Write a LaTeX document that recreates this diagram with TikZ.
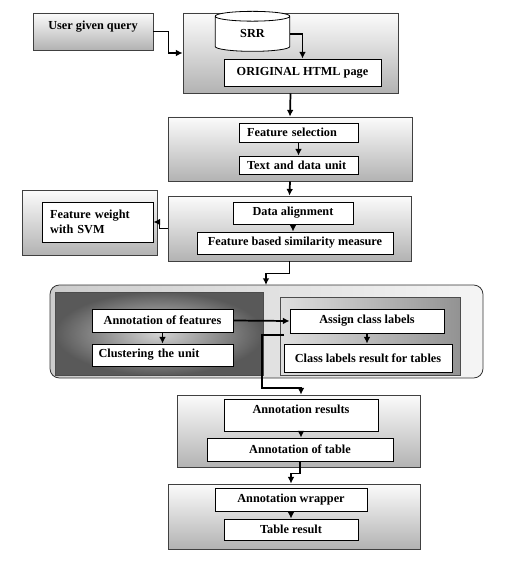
\documentclass[tikz,border=0pt]{standalone}
\usepackage{fontspec}
\setmainfont{Liberation Serif}
\usetikzlibrary{arrows.meta,shapes.geometric}

\tikzset{
  wh/.style 2 args={minimum width=0.75pt*#1, minimum height=0.75pt*#2},
  frame/.style={draw=black!75, line width=0.6pt, inner sep=0pt,
    top color=gray!3, middle color=gray!20, bottom color=gray!60,
    font=\bfseries\fontsize{9.2}{11}\selectfont},
  unit/.style={draw=black, line width=0.6pt, fill=white, inner sep=0pt,
    font=\bfseries\fontsize{9.2}{11}\selectfont},
  db/.style={cylinder, shape border rotate=90, draw=black, line width=0.6pt,
    fill=white, aspect=0.4, minimum height=30pt, minimum width=56pt, inner sep=0pt,
    font=\bfseries\fontsize{9.2}{11}\selectfont},
  flow/.style={line width=1.3pt, -{Latex[length=5pt,width=5pt]}},
}

\begin{document}
\begin{tikzpicture}[x=0.75pt,y=0.75pt,yscale=-1,xscale=1]
  \useasboundingbox (0,0) rectangle (519,563);

  % query and source page
  \node[frame, wh={120}{37}, text depth=9pt] (query) at (93,31.5) {User given query};
  \node[frame, wh={215}{80}] (top) at (290.5,53) {};
  \node[db] (srr) at (252.5,34) {SRR};
  \node[unit, wh={157}{27}] (html) at (302.5,72.5) {ORIGINAL HTML page};

  % feature selection
  \node[frame, wh={244}{64}] (stage2) at (290,149) {};
  \node[unit, wh={119}{19}, text width=77pt, align=left] (fsel) at (298.5,132.5) {Feature selection};
  \node[unit, wh={119}{18}, text width=77pt, align=left] (tdu) at (298.5,165) {Text and data unit};

  % alignment
  \node[frame, wh={243}{65}] (stage3) at (289.5,228.5) {};
  \node[unit, wh={120}{22}] (align) at (293,213) {Data alignment};
  \node[unit, wh={196}{22}] (sim) at (295,243) {Feature based similarity measure};
  \node[frame, wh={135}{65}] (svmframe) at (89.5,222.5) {};
  \node[unit, wh={111}{40}, text width=71pt, align=left] (svm) at (97.5,222) {Feature weight\\with SVM};

  % annotation group
  \node[draw=black!80, line width=0.6pt, rounded corners=7pt, inner sep=0pt,
    left color=gray!40, right color=gray!8, wh={433}{93}] (grp) at (266.5,331.5) {};
  \node[draw=black!70, line width=0.6pt, inner sep=0pt, inner color=gray!35,
    outer color=black!65, wh={208}{83}] (lpanel) at (159,333.5) {};
  \node[draw=black!70, line width=0.6pt, inner sep=0pt, left color=gray!25,
    right color=gray!85, wh={180}{78}] (rpanel) at (370,336) {};
  \node[unit, wh={141}{23}] (annf) at (162.5,320.5) {Annotation of features};
  \node[unit, wh={141}{22}, text width=96pt, align=left] (clust) at (162.5,355) {Clustering the unit};
  \node[unit, wh={154}{24}] (assign) at (367,321) {Assign class labels};
  \node[unit, wh={168}{28}] (clres) at (368,358) {Class labels result for tables};

  % results
  \node[frame, wh={243}{72}] (stage4) at (298.5,431) {};
  \node[unit, wh={154}{32}, text depth=9pt] (res) at (301,415) {Annotation results};
  \node[unit, wh={186}{23}] (annt) at (300,449.5) {Annotation of table};
  \node[frame, wh={252}{65}] (stage5) at (294,516.5) {};
  \node[unit, wh={152}{23}] (wrap) at (291,499.5) {Annotation wrapper};
  \node[unit, wh={134}{21}] (tres) at (291,529.5) {Table result};

  \coordinate (gin) at (266,285);
  \coordinate (cstart) at (284,335);

  % connectors
  \draw[flow] (query.east) -- ++(15,0) |- (top.west);
  \draw[flow] (srr.east) -| (html.north);
  \draw[flow] (top.south) -- (stage2.north);
  \draw[flow] (fsel.south) -- (tdu.north);
  \draw[flow] (stage2.south) -- (stage3.north);
  \draw[flow] (align.south) -- (align.south |- sim.north);
  \draw[flow] (stage3.west) -- ++(-8,0) |- (svm.east);
  \draw[flow] (stage3.south) -- ++(0,12) -| (gin);
  \draw[flow] (annf.east) -- (assign.west);
  \draw[flow] (annf.south) -- (clust.north);
  \draw[flow] (assign.south) -- (assign.south |- clres.north);
  \draw[flow] (cstart) -- ++(-22,0) -- ++(0,53) -| (res.north |- stage4.north);
  \draw[flow] (res.south) -- (res.south |- annt.north);
  \draw[flow] (annt.south) -- ++(0,12) -| (wrap.north |- stage5.north);
  \draw[flow] (wrap.south) -- (wrap.south |- tres.north);
\end{tikzpicture}
\end{document}
